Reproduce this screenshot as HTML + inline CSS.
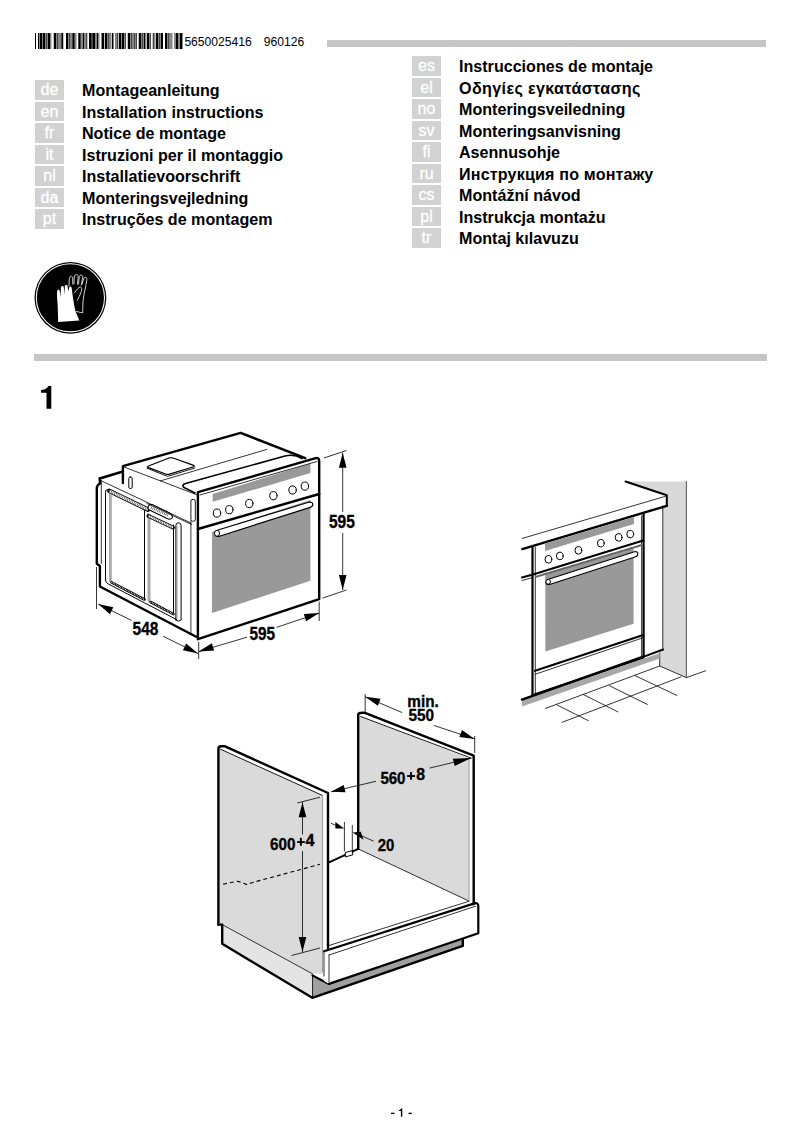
<!DOCTYPE html>
<html><head><meta charset="utf-8">
<style>
html,body{margin:0;padding:0;background:#fff;}
body{width:802px;height:1134px;position:relative;overflow:hidden;font-family:"Liberation Sans",sans-serif;color:#000;}
.a{position:absolute;white-space:nowrap;}
.rule{position:absolute;background:#c6c6c6;height:7px;}
.lb{position:absolute;width:29px;height:19.6px;background:#d2d2d2;color:#fff;font-size:16px;text-align:center;line-height:20px;-webkit-text-stroke:0.3px #fff;}
.lt{position:absolute;font-weight:bold;font-size:16.1px;line-height:20px;white-space:nowrap;}
.code{font-size:12.1px;}
svg{position:absolute;left:0;top:0;}
</style></head><body>
<div class="a code" style="left:184.4px;top:34.9px;">5650025416</div>
<div class="a code" style="left:263.8px;top:34.9px;">960126</div>
<div class="rule" style="left:327px;top:40px;width:439px;"></div>
<div class="rule" style="left:34px;top:354px;width:733px;"></div>

<div class="lb" style="left:35px;top:80px;">de</div><div class="lt" style="left:82px;top:80px;">Montageanleitung</div>
<div class="lb" style="left:35px;top:101.5px;">en</div><div class="lt" style="left:82px;top:101.5px;">Installation instructions</div>
<div class="lb" style="left:35px;top:123px;">fr</div><div class="lt" style="left:82px;top:123px;">Notice de montage</div>
<div class="lb" style="left:35px;top:144.5px;">it</div><div class="lt" style="left:82px;top:144.5px;">Istruzioni per il montaggio</div>
<div class="lb" style="left:35px;top:166px;">nl</div><div class="lt" style="left:82px;top:166px;">Installatievoorschrift</div>
<div class="lb" style="left:35px;top:187.5px;">da</div><div class="lt" style="left:82px;top:187.5px;">Monteringsvejledning</div>
<div class="lb" style="left:35px;top:209px;">pt</div><div class="lt" style="left:82px;top:209px;">Instruções de montagem</div>

<div class="lb" style="left:412px;top:56px;">es</div><div class="lt" style="left:459px;top:56px;">Instrucciones de montaje</div>
<div class="lb" style="left:412px;top:77.5px;">el</div><div class="lt" style="left:459px;top:77.5px;letter-spacing:0.37px;">Οδηγίες εγκατάστασης</div>
<div class="lb" style="left:412px;top:99px;">no</div><div class="lt" style="left:459px;top:99px;">Monteringsveiledning</div>
<div class="lb" style="left:412px;top:120.5px;">sv</div><div class="lt" style="left:459px;top:120.5px;">Monteringsanvisning</div>
<div class="lb" style="left:412px;top:142px;">fi</div><div class="lt" style="left:459px;top:142px;">Asennusohje</div>
<div class="lb" style="left:412px;top:163.5px;">ru</div><div class="lt" style="left:459px;top:163.5px;letter-spacing:0.17px;">Инструкция по монтажу</div>
<div class="lb" style="left:412px;top:185px;">cs</div><div class="lt" style="left:459px;top:185px;">Montážní návod</div>
<div class="lb" style="left:412px;top:206.5px;">pl</div><div class="lt" style="left:459px;top:206.5px;">Instrukcja montażu</div>
<div class="lb" style="left:412px;top:228px;">tr</div><div class="lt" style="left:459px;top:228px;">Montaj kılavuzu</div>


<svg id="draw" width="802" height="1134" viewBox="0 0 802 1134">
<g shape-rendering="crispEdges"><rect x="35" y="33" width="1" height="16" fill="#000000"/><rect x="38" y="33" width="1" height="16" fill="#000000"/><rect x="39" y="33" width="1" height="16" fill="#878787"/><rect x="40" y="33" width="1" height="16" fill="#000000"/><rect x="41" y="33" width="1" height="16" fill="#000000"/><rect x="42" y="33" width="1" height="16" fill="#878787"/><rect x="43" y="33" width="1" height="16" fill="#000000"/><rect x="44" y="33" width="1" height="16" fill="#000000"/><rect x="45" y="33" width="1" height="16" fill="#878787"/><rect x="46" y="33" width="1" height="16" fill="#464646"/><rect x="47" y="33" width="1" height="16" fill="#878787"/><rect x="48" y="33" width="1" height="16" fill="#000000"/><rect x="49" y="33" width="1" height="16" fill="#000000"/><rect x="50" y="33" width="1" height="16" fill="#878787"/><rect x="51" y="33" width="1" height="16" fill="#c3c3c3"/><rect x="53" y="33" width="1" height="16" fill="#c3c3c3"/><rect x="54" y="33" width="1" height="16" fill="#000000"/><rect x="55" y="33" width="1" height="16" fill="#000000"/><rect x="56" y="33" width="1" height="16" fill="#878787"/><rect x="57" y="33" width="1" height="16" fill="#464646"/><rect x="58" y="33" width="1" height="16" fill="#878787"/><rect x="59" y="33" width="1" height="16" fill="#878787"/><rect x="60" y="33" width="1" height="16" fill="#878787"/><rect x="61" y="33" width="1" height="16" fill="#464646"/><rect x="62" y="33" width="1" height="16" fill="#000000"/><rect x="63" y="33" width="1" height="16" fill="#c3c3c3"/><rect x="66" y="33" width="1" height="16" fill="#000000"/><rect x="67" y="33" width="1" height="16" fill="#000000"/><rect x="68" y="33" width="1" height="16" fill="#878787"/><rect x="69" y="33" width="1" height="16" fill="#464646"/><rect x="70" y="33" width="1" height="16" fill="#878787"/><rect x="71" y="33" width="1" height="16" fill="#878787"/><rect x="72" y="33" width="1" height="16" fill="#464646"/><rect x="73" y="33" width="1" height="16" fill="#000000"/><rect x="74" y="33" width="1" height="16" fill="#464646"/><rect x="75" y="33" width="1" height="16" fill="#878787"/><rect x="76" y="33" width="1" height="16" fill="#c3c3c3"/><rect x="78" y="33" width="1" height="16" fill="#464646"/><rect x="79" y="33" width="1" height="16" fill="#000000"/><rect x="80" y="33" width="1" height="16" fill="#464646"/><rect x="81" y="33" width="1" height="16" fill="#878787"/><rect x="82" y="33" width="1" height="16" fill="#878787"/><rect x="83" y="33" width="1" height="16" fill="#000000"/><rect x="84" y="33" width="1" height="16" fill="#878787"/><rect x="85" y="33" width="1" height="16" fill="#878787"/><rect x="86" y="33" width="1" height="16" fill="#464646"/><rect x="87" y="33" width="1" height="16" fill="#c3c3c3"/><rect x="89" y="33" width="1" height="16" fill="#000000"/><rect x="90" y="33" width="1" height="16" fill="#000000"/><rect x="91" y="33" width="1" height="16" fill="#464646"/><rect x="92" y="33" width="1" height="16" fill="#464646"/><rect x="93" y="33" width="1" height="16" fill="#000000"/><rect x="94" y="33" width="1" height="16" fill="#000000"/><rect x="95" y="33" width="1" height="16" fill="#878787"/><rect x="96" y="33" width="1" height="16" fill="#878787"/><rect x="97" y="33" width="1" height="16" fill="#000000"/><rect x="98" y="33" width="1" height="16" fill="#878787"/><rect x="99" y="33" width="1" height="16" fill="#c3c3c3"/><rect x="101" y="33" width="1" height="16" fill="#878787"/><rect x="102" y="33" width="1" height="16" fill="#000000"/><rect x="103" y="33" width="1" height="16" fill="#000000"/><rect x="104" y="33" width="1" height="16" fill="#c3c3c3"/><rect x="105" y="33" width="1" height="16" fill="#000000"/><rect x="106" y="33" width="1" height="16" fill="#000000"/><rect x="107" y="33" width="1" height="16" fill="#878787"/><rect x="108" y="33" width="1" height="16" fill="#464646"/><rect x="109" y="33" width="1" height="16" fill="#878787"/><rect x="110" y="33" width="1" height="16" fill="#878787"/><rect x="111" y="33" width="1" height="16" fill="#c3c3c3"/><rect x="112" y="33" width="1" height="16" fill="#000000"/><rect x="113" y="33" width="1" height="16" fill="#878787"/><rect x="115" y="33" width="1" height="16" fill="#878787"/><rect x="116" y="33" width="1" height="16" fill="#878787"/><rect x="117" y="33" width="1" height="16" fill="#464646"/><rect x="118" y="33" width="1" height="16" fill="#c3c3c3"/><rect x="119" y="33" width="1" height="16" fill="#000000"/><rect x="120" y="33" width="1" height="16" fill="#000000"/><rect x="121" y="33" width="1" height="16" fill="#878787"/><rect x="122" y="33" width="1" height="16" fill="#000000"/><rect x="123" y="33" width="1" height="16" fill="#000000"/><rect x="124" y="33" width="1" height="16" fill="#878787"/><rect x="125" y="33" width="1" height="16" fill="#464646"/><rect x="127" y="33" width="1" height="16" fill="#c3c3c3"/><rect x="128" y="33" width="1" height="16" fill="#000000"/><rect x="129" y="33" width="1" height="16" fill="#000000"/><rect x="130" y="33" width="1" height="16" fill="#878787"/><rect x="131" y="33" width="1" height="16" fill="#464646"/><rect x="132" y="33" width="1" height="16" fill="#878787"/><rect x="133" y="33" width="1" height="16" fill="#878787"/><rect x="134" y="33" width="1" height="16" fill="#464646"/><rect x="135" y="33" width="1" height="16" fill="#878787"/><rect x="136" y="33" width="1" height="16" fill="#464646"/><rect x="138" y="33" width="1" height="16" fill="#c3c3c3"/><rect x="139" y="33" width="1" height="16" fill="#000000"/><rect x="140" y="33" width="1" height="16" fill="#000000"/><rect x="141" y="33" width="1" height="16" fill="#878787"/><rect x="142" y="33" width="1" height="16" fill="#464646"/><rect x="143" y="33" width="1" height="16" fill="#878787"/><rect x="144" y="33" width="1" height="16" fill="#000000"/><rect x="145" y="33" width="1" height="16" fill="#878787"/><rect x="146" y="33" width="1" height="16" fill="#c3c3c3"/><rect x="147" y="33" width="1" height="16" fill="#000000"/><rect x="148" y="33" width="1" height="16" fill="#000000"/><rect x="149" y="33" width="1" height="16" fill="#878787"/><rect x="150" y="33" width="1" height="16" fill="#464646"/><rect x="152" y="33" width="1" height="16" fill="#c3c3c3"/><rect x="153" y="33" width="1" height="16" fill="#464646"/><rect x="154" y="33" width="1" height="16" fill="#878787"/><rect x="155" y="33" width="1" height="16" fill="#c3c3c3"/><rect x="156" y="33" width="1" height="16" fill="#000000"/><rect x="157" y="33" width="1" height="16" fill="#000000"/><rect x="158" y="33" width="1" height="16" fill="#878787"/><rect x="159" y="33" width="1" height="16" fill="#464646"/><rect x="160" y="33" width="1" height="16" fill="#878787"/><rect x="161" y="33" width="1" height="16" fill="#000000"/><rect x="162" y="33" width="1" height="16" fill="#000000"/><rect x="165" y="33" width="1" height="16" fill="#000000"/><rect x="166" y="33" width="1" height="16" fill="#000000"/><rect x="167" y="33" width="1" height="16" fill="#878787"/><rect x="168" y="33" width="1" height="16" fill="#464646"/><rect x="169" y="33" width="1" height="16" fill="#878787"/><rect x="170" y="33" width="1" height="16" fill="#878787"/><rect x="171" y="33" width="1" height="16" fill="#878787"/><rect x="172" y="33" width="1" height="16" fill="#c3c3c3"/><rect x="174" y="33" width="1" height="16" fill="#878787"/><rect x="175" y="33" width="1" height="16" fill="#878787"/><rect x="176" y="33" width="1" height="16" fill="#000000"/><rect x="177" y="33" width="1" height="16" fill="#000000"/><rect x="178" y="33" width="1" height="16" fill="#878787"/><rect x="179" y="33" width="1" height="16" fill="#878787"/><rect x="180" y="33" width="1" height="16" fill="#000000"/><rect x="181" y="33" width="1" height="16" fill="#000000"/><rect x="182" y="33" width="1" height="16" fill="#878787"/></g>
<g id="icon">
<circle cx="70.4" cy="297.8" r="35.9" fill="#000"/>
<circle cx="70.4" cy="297.8" r="34.1" fill="none" stroke="#fff" stroke-width="1.05"/>
<path d="M58.2,322 L79.3,320.5 L75.3,310.8 C74,305 73.4,300 72.6,295 C72.2,292 71.9,289.5 71.6,287.6 C71.2,286.3 69.6,286.2 69.1,287.8 L68.4,291.6 L67.6,286.4 C67.2,284.6 65.1,284.6 64.8,286.4 L64.4,294.8 L63.8,287.2 C63.4,285.5 61.3,285.7 61.0,287.5 L60.3,297.4 L59.8,291.2 C59.4,289.3 57.2,289.3 57.1,291.5 C57,296 57.2,301 57.6,303.8 L58.2,322 Z" fill="#fff"/>
<path d="M68.95,286.5 L69.3,279 C69.6,275.6 72.5,275.2 72.7,278 L72.8,284.5 M73.9,284.3 L74.3,277 C74.8,273.8 78,273.7 78.2,276.5 L77.5,284.5 M78.5,284.5 L79.2,277.2 C79.7,274.3 82.8,274.4 82.8,277.2 L81.2,285.5 M81.9,284.5 L83.7,278.8 C84.5,276.3 87.2,276.8 86.8,279.8 L85.9,285.5 L83.9,295 L82.9,302.4 L82.7,312.9 L75.9,311.4 M74.4,293 C76,290.2 78.8,287.2 80.4,287 C82.1,287 82,290 80.9,292.6 C79.8,295.5 78.5,298 77.2,300.4" fill="none" stroke="#fff" stroke-width="0.8"/>
</g>
<!--D1--><g id="oven1" fill="none" stroke="#000" stroke-linejoin="round" stroke-linecap="round">
<!-- side panel fill white -->
<path d="M97.4,485 L99.1,478 L122.9,471.8 L122.9,466.2 L240.7,432.9 L318.3,457.3 L319.2,599.1 L197.9,639.2 L196.2,636.8 L99.1,586.5 Z" fill="#fff" stroke="none"/>
<!-- top housing -->
<path d="M122.9,483 L122.9,466.2 L240.7,432.9 L305.2,458.2" stroke-width="2.4"/>
<path d="M99.7,478.5 L122.9,471.5" stroke-width="2.4"/>
<path d="M123.7,466.9 L197,494.8" stroke-width="0.8"/>
<path d="M160.4,480.9 L266.8,449.4" stroke-width="0.8"/>
<path d="M195,493 L184,487.5 C182,486 183,484 185.5,483.5 L285,456 C291,454.5 297,455.5 302,458.5" stroke-width="1.6"/>
<!-- top pad -->
<path d="M148.5,466 L169,458 Q170.9,457.3 173,458 L193,465.2 Q195.5,466.2 193,467 L169.5,474.2 Q167.4,474.8 165.5,474 L148.5,467.6 Q146.2,466.8 148.5,466 Z" stroke-width="1.3" fill="#fff"/>
<path d="M147,468.2 L166,475.8 Q167.5,476.4 169.5,475.8 L194.8,468" stroke-width="0.9"/>
<!-- slot -->
<rect x="128.8" y="477" width="3.4" height="11.5" rx="1.4" stroke-width="1"/>
<!-- side panel outer -->
<path d="M99.7,478.5 L100,483.5 Q96.8,485 96.8,488.5 L96.8,563.8 L99.9,566 L99.9,586.5 L196.2,636.8" stroke-width="2.4"/>
<path d="M100.9,480.6 L190.9,523" stroke-width="0.8"/>
<path d="M101.3,480.6 L101.3,563.5" stroke-width="0.8"/>
<path d="M190.9,521 L190.9,634" stroke-width="0.8"/>
<!-- side windows -->
<path d="M108.5,489.8 Q105.5,489 105.5,492.5 L105.5,580 Q105.5,582.5 108,583.8 L177,619.8" stroke-width="1"/>
<path d="M109,493.5 L111.8,494.8 L111.8,583 L109,581.6 Z" fill="#aaa" stroke="none"/>
<path d="M147.5,512.8 L150.5,514.3 L150.5,602.5 L147.5,601 Z" fill="#aaa" stroke="none"/>
<path d="M144.5,510 L144.5,599.5" stroke-width="1"/>
<path d="M173.5,525 L173.5,614.5" stroke-width="1"/>
<path d="M109.5,491 L148,509.6" stroke-width="4.6"/>
<path d="M109.5,491 L148,509.6" stroke-width="2.8" stroke="#fff" stroke-linecap="butt"/>
<path d="M109.5,491 L148,509.6" stroke-width="2.8" stroke="#444" stroke-dasharray="0.7 1.1" stroke-linecap="butt"/>
<path d="M148.5,516 L173,527.5" stroke-width="4"/>
<path d="M148.5,516 L173,527.5" stroke-width="2.2" stroke="#fff" stroke-linecap="butt"/>
<path d="M148.5,516 L173,527.5" stroke-width="2.2" stroke="#444" stroke-dasharray="0.7 1.1" stroke-linecap="butt"/>
<path d="M152,504.6 L169.5,513 Q173.5,515 172,518 Q170.5,520 167,518.5 L150.5,510.6 Q147,509 148.5,506 Q149.5,504 152,504.6 Z" stroke-width="1.1" fill="#fff"/>
<path d="M151,507.6 L169,516" stroke-width="2.4" stroke="#444" stroke-dasharray="0.7 1.1" stroke-linecap="butt"/>
<path d="M111.5,582.3 L144.5,599.5" stroke-width="2.6"/>
<path d="M111.5,582.3 L144.5,599.5" stroke-width="1.2" stroke="#fff" stroke-dasharray="0.8 0.9" stroke-linecap="butt"/>
<path d="M150.5,602 L173.5,614.2" stroke-width="2.6"/>
<path d="M150.5,602 L173.5,614.2" stroke-width="1.2" stroke="#fff" stroke-dasharray="0.8 0.9" stroke-linecap="butt"/>
<path d="M175.9,620 L175.9,525.5 Q175.9,522.8 178.5,522.8 Q181.1,522.8 181.1,525.5 L181.1,620 Q178.5,622.5 175.9,620 Z" stroke-width="1"/>
<path d="M177.3,526 L177.3,618" stroke-width="0.6" stroke="#888"/>
<path d="M147,503.5 L191.6,524.5" stroke-width="0.8"/>
<rect x="190.9" y="499.5" width="4.4" height="21.7" rx="1.5" stroke-width="0.9"/>
<!-- control panel front -->
<path d="M197.9,492.2 L315.7,458.2 Q319.2,457.3 319.2,460 L319.2,599.1 L197.9,639.2 Z" fill="#fff" stroke="none"/>
<path d="M212.7,494 L310.4,463.4 L310.4,473 L212.7,501.8 Z" fill="#999" stroke="none"/>
<path d="M212,532 L310.4,500 L310.4,580.8 L212,613 Z" fill="#999" stroke="none"/>
<path d="M197.9,639.2 L197.9,492.2 L315.7,458.2 Q319.2,457.3 319.2,461 L319.2,599.1 L197.9,639.2" stroke-width="2.4"/>
<path d="M200,495 L317,461.5" stroke-width="0.8"/>
<path d="M197.9,529 L319.2,494" stroke-width="2.4"/>
<!-- knobs -->
<g stroke-width="1" fill="#fff">
<ellipse cx="217" cy="513.1" rx="3.7" ry="4.1"/>
<ellipse cx="229.3" cy="509.7" rx="3.7" ry="4.1"/>
<ellipse cx="249.3" cy="503.5" rx="3.7" ry="4.1"/>
<ellipse cx="273.4" cy="495.7" rx="3.7" ry="4.1"/>
<ellipse cx="292.6" cy="490" rx="3.7" ry="4.1"/>
<ellipse cx="304.9" cy="486.1" rx="3.7" ry="4.1"/>
</g>
<!-- handle -->
<path d="M218,530 L308.5,502.3 Q312.8,501.5 312.8,504.6 Q312.8,507 309.5,507.6 L219.5,536.2 Q215,537.3 215,533.5 Q215,530.8 218,530 Z" fill="#fff" stroke-width="1.2"/>
<ellipse cx="217" cy="533.3" rx="2.6" ry="3" stroke-width="1" fill="#fff"/>
</g>
<g id="dims1" fill="none" stroke="#000" stroke-width="0.8">
<path d="M96.5,567 L96.5,609"/>
<path d="M198.7,642 L198.7,659"/>
<path d="M319.2,601.7 L319.2,621"/>
<path d="M324,458 L346.5,450.5"/>
<path d="M322.5,598.1 L346.5,590"/>
<path d="M98.2,604.1 L131.7,620.5 M163,636.2 L198,653.5"/>
<path d="M198.7,651.5 L247,637.2 M276.8,627.3 L319.2,613"/>
<path d="M342.7,452.7 L342.7,512 M342.7,533 L342.7,590"/>
</g>
<g fill="#000" stroke="none">
<path d="M98.2,604.1 L110.0,614.2 L113.3,607.3 Z"/>
<path d="M198.0,653.5 L186.2,643.4 L182.9,650.3 Z"/>
<path d="M198.7,651.5 L214.1,650.6 L211.8,643.3 Z"/>
<path d="M319.2,613.0 L303.8,613.9 L306.1,621.2 Z"/>
<path d="M342.7,452.7 L338.9,467.7 L346.5,467.7 Z"/>
<path d="M342.7,590.0 L346.5,575.0 L338.9,575.0 Z"/>
</g>
<g font-family="Liberation Sans" font-weight="bold" font-size="17.5" fill="#000" stroke="#000" stroke-width="0.35">
<text x="132.6" y="635" textLength="25.8" lengthAdjust="spacingAndGlyphs">548</text>
<text x="249.6" y="640" textLength="25.5" lengthAdjust="spacingAndGlyphs">595</text>
<text x="329" y="528" textLength="25.8" lengthAdjust="spacingAndGlyphs">595</text>
</g>
<!--/D1-->
<!--D2--><g id="kitchen" fill="none" stroke="#000" stroke-linejoin="round" stroke-linecap="round">
<!-- wall -->
<path d="M625.5,481.5 L686.4,481.5 L686.4,677.6 L659.7,666 L659.7,653 L662.6,649.5 L662.8,505.8 L666.8,505.8 L666.8,495.3 Z" fill="#d9d9d9" stroke="none"/>
<path d="M686.4,481.5 L686.4,677.6" stroke-width="0.9" stroke="#444"/>
<path d="M662.8,505.8 L662.8,650" stroke-width="0.8"/>
<path d="M659.7,653 L659.7,666 L686.4,677.6 L705.6,670.8" stroke-width="0.8"/>
<!-- countertop -->
<path d="M522.3,538.4 L666.8,495.9" stroke-width="0.8"/>
<path d="M625.5,481.5 L666.8,495.3 L666.8,505.8" stroke-width="2"/>
<path d="M522.3,549.1 L666.8,505.8" stroke-width="2.4"/>
<!-- oven outer verticals -->
<path d="M532.5,547 L532.5,696.2" stroke-width="2.2"/>
<path d="M535.3,547 L535.3,694" stroke-width="0.8"/>
<path d="M643.6,513 L643.6,656.4" stroke-width="2.2"/>
<path d="M641.6,516 L641.6,656" stroke-width="0.8"/>
<!-- control panel -->
<path d="M545,543.8 L634,516.9 L634,524.1 L545,551.1 Z" fill="#999" stroke="none"/>
<g stroke-width="1" fill="#fff">
<ellipse cx="548.4" cy="559.3" rx="3.4" ry="3.8"/>
<ellipse cx="559.8" cy="555.9" rx="3.4" ry="3.8"/>
<ellipse cx="578.4" cy="550.3" rx="3.4" ry="3.8"/>
<ellipse cx="600.8" cy="543.2" rx="3.4" ry="3.8"/>
<ellipse cx="618.6" cy="537.4" rx="3.4" ry="3.8"/>
<ellipse cx="630.2" cy="534.1" rx="3.4" ry="3.8"/>
</g>
<!-- door -->
<path d="M545.3,574 L633.6,548 L633.6,623.7 L545.3,651.6 Z" fill="#999" stroke="none"/>
<path d="M522,577.5 L533,574.5 L643.2,540.5" stroke-width="2.2"/>
<path d="M522,580.5 L533,577.5" stroke-width="0.8"/>
<path d="M536,576.8 L642,545" stroke-width="2" stroke="#666" stroke-dasharray="0.8 0.8"/>
<path d="M548.5,579.3 L634.5,551.7 Q637.8,551.2 637.8,553.8 Q637.8,556.3 635,557 L549.5,584.4 Q546,585.2 546,582.2 Q546,579.8 548.5,579.3 Z" fill="#fff" stroke-width="1.1"/>
<circle cx="548.2" cy="581.8" r="2.3" fill="#fff" stroke-width="0.9"/>
<path d="M535.1,670.8 L643.3,635" stroke-width="2.2"/>
<path d="M535.1,674.3 L643.3,637.7" stroke-width="0.8"/>
<path d="M535.1,694.4 L643.3,657.7" stroke-width="2.2"/>
<!-- cabinet side bottom -->
<path d="M644.6,656.4 L663.1,649.5" stroke-width="2"/>
<!-- plinth -->
<path d="M522,699.8 L659.7,653.2 L659.7,658.4 L522,706.6 Z" fill="#a8a8a8" stroke="none"/>
<path d="M522,699.6 L643.9,656.4" stroke-width="2.4"/>
<!-- floor -->
<g stroke-width="0.8">
<path d="M545.5,708.4 L659.7,666"/>
<path d="M562.1,722.3 L680.9,676.9"/>
<path d="M556.9,704.9 L588.3,720.6"/>
<path d="M583.1,694.4 L618,711.9"/>
<path d="M609.6,685.8 L647.3,704.4"/>
<path d="M635,675.6 L676.8,695.4"/>
</g>
</g>
<!--/D2-->
<!--D3--><g id="cabinet" fill="none" stroke="#000" stroke-linejoin="round" stroke-linecap="round">
<!-- left panel -->
<path d="M218.4,749 Q218.4,746.3 221,746.2 L224.5,746.1 L328,793 L328,977 L312.5,975 L222.2,924.6 L218.4,924.6 Z" fill="#fff" stroke="none"/>
<path d="M218.4,750 L220.5,749.2 L322.6,795.5 L322.6,974 L312.5,973.5 L222.2,924.6 L218.4,924.6 Z" fill="#dadada" stroke="none"/>
<!-- plinth left recess -->
<path d="M222.2,924.6 L312.5,973.5 L312.5,997.8 L222.2,943.8 Z" fill="#e4e4e4" stroke="none"/>
<path d="M312.5,975.4 L329,983.9 L462.8,937.6 L462.8,945.8 L312.3,997.8 Z" fill="#a0a0a0" stroke="none"/>
<path d="M218.4,924.6 L218.4,749 Q218.4,746.3 221,746.2 L224.5,746.1 L328,793 L328,948" stroke-width="2.4"/>
<path d="M220.5,749.2 L322.6,795.5" stroke-width="0.9"/>
<path d="M322.6,795.5 L322.6,972" stroke-width="1" stroke="#999"/>
<path d="M218.4,924.6 L222.2,924.6 L222.2,943.8 L312.3,997.8 L462.8,945.8 L462.8,937.6" stroke-width="2.4"/>
<path d="M222.2,924.6 L312.5,973.8" stroke-width="0.8"/>
<path d="M312.5,975 L312.5,997" stroke-width="0.8"/>
<path d="M312.5,975.4 L329,983.9" stroke-width="2.2"/>
<!-- right panel -->
<path d="M357.8,716 Q357.8,713.5 360,713 L364.3,712.7 L473.7,755.7 L473.7,903.6 L468.4,900.8 L358.2,848.9 Z" fill="#fff" stroke="none"/>
<path d="M358.2,717 L360.6,716.5 L469,758.3 L469,901 L358.2,848.9 Z" fill="#dadada" stroke="none"/>
<path d="M358.2,848.9 L358.2,716 Q357.8,713.5 360,713 L364.3,712.7 L473.7,755.7 L473.7,905" stroke-width="2.4"/>
<path d="M360.6,716.5 L471.2,758.1" stroke-width="0.9"/>
<path d="M469,758.3 L469,901" stroke-width="1" stroke="#999"/>
<path d="M358.2,848.9 L468.4,900.8" stroke-width="0.8"/>
<!-- back wall bottom edge -->
<path d="M328.5,862.7 L358.2,848.9" stroke-width="2"/>
<path d="M345.3,856.5 L345.3,852.5 L352.7,850.5 L352.7,854.5 Z" stroke-width="1" fill="#fff"/>
<!-- bottom shelf -->
<path d="M324,951 L478.3,903.8 L478.3,933.2 L329,983.9 L324,981 Z" fill="#fff" stroke="none"/>
<path d="M329,945.5 L468.9,901.3" stroke-width="0.8"/>
<path d="M324,951.2 L474.5,903.4 Q478.3,902.5 478.3,906 L478.3,933.2 L329,983.9" stroke-width="2.2"/>
<path d="M329,955 L475.8,906.1" stroke-width="0.8"/>
<path d="M329,955 L329,982" stroke-width="0.8"/>
<path d="M324,951.5 L324,976" stroke-width="0.8"/>
</g>
<g id="dims3" fill="none" stroke="#000" stroke-width="0.8">
<!-- min 550 -->
<path d="M365.2,694 L365.2,711.8"/>
<path d="M474.7,736 L474.7,753"/>
<path d="M365.2,696.8 L402,712.5 M434,725.5 L474.7,738.9"/>
<!-- 560+8 -->
<path d="M331,791.8 L376,781.3 M429.5,768.1 L471.2,758.1"/>
<!-- 600+4 -->
<path d="M297.3,803 L320,797.2"/>
<path d="M302.5,802.2 L302.5,834.5 M302.5,851 L302.5,952"/>
<path d="M291.5,955.5 L320,948"/>
<!-- 20 -->
<path d="M344.4,822 L344.4,851.5"/>
<path d="M352.3,825 L352.3,853"/>
<path d="M330.9,823.3 L336,825.4"/>
<path d="M362,836 L373.6,841.2"/>
<!-- dashed line -->
<path d="M223,884.2 L237.5,881.2 L242,882.6 L247,884.6 L251.7,882.7 L320,864.3" stroke-dasharray="4 3" stroke-width="1.1"/>
</g>
<g fill="#000" stroke="none">
<path d="M365.2,696.8 L377.9,705.7 L380.5,698.7 Z"/>
<path d="M474.7,738.9 L462.0,730.0 L459.4,737.0 Z"/>
<path d="M331.0,791.8 L345.5,792.2 L343.7,784.9 Z"/>
<path d="M471.2,758.1 L452.8,758.7 L454.6,766.0 Z"/>
<path d="M302.5,802.2 L298.7,817.2 L306.3,817.2 Z"/>
<path d="M302.5,952.0 L306.3,937.0 L298.7,937.0 Z"/>
<path d="M335.4,822 L344.2,828.5 L335.4,828.5 Z"/>
<path d="M352.6,832.5 L360.8,831.8 L363.5,839.8 Z"/>
<rect x="407.1" y="775.1" width="7.9" height="1.9"/><rect x="410.1" y="772.1" width="1.9" height="7.7"/>
<rect x="297.1" y="841.1" width="7.7" height="1.9"/><rect x="299.9" y="837.8" width="1.9" height="8"/>
</g>
<g font-family="Liberation Sans" font-weight="bold" font-size="16.9" fill="#000" stroke="#000" stroke-width="0.35">
<text x="407.3" y="706.8" textLength="31.5" lengthAdjust="spacingAndGlyphs">min.</text>
<text x="408.4" y="721" textLength="25.6" lengthAdjust="spacingAndGlyphs">550</text>
<text x="380.4" y="783.7" textLength="25.1" lengthAdjust="spacingAndGlyphs">560</text>
<text x="416.3" y="780.2" textLength="8.8" lengthAdjust="spacingAndGlyphs">8</text>
<text x="270.1" y="849.9" textLength="25.4" lengthAdjust="spacingAndGlyphs">600</text>
<text x="305.5" y="845.6" textLength="9.0" lengthAdjust="spacingAndGlyphs">4</text>
<text x="377.8" y="850.6" textLength="16.6" lengthAdjust="spacingAndGlyphs">20</text>
</g>
<!--/D3-->
<path d="M48.4,385.9 L51.3,385.9 L51.3,408.7 L46.5,408.7 L46.5,392.7 L41.1,392.7 L41.1,389.9 C43.4,389.8 45.2,389.3 46.4,388.3 C47.3,387.6 47.9,386.8 48.4,385.9 Z" fill="#000"/>
<g fill="#000"><rect x="391.1" y="1112.7" width="3.3" height="1.4"/><rect x="408.5" y="1112.7" width="3.3" height="1.4"/><path d="M400.9,1108.5 L402.3,1108.5 L402.3,1116.7 L400.9,1116.7 L400.9,1110.9 L398.9,1110.9 L398.9,1110 C399.9,1110 400.6,1109.5 400.9,1108.5 Z"/></g>
<!--DIAGRAMS-->
</svg>
</body></html>
